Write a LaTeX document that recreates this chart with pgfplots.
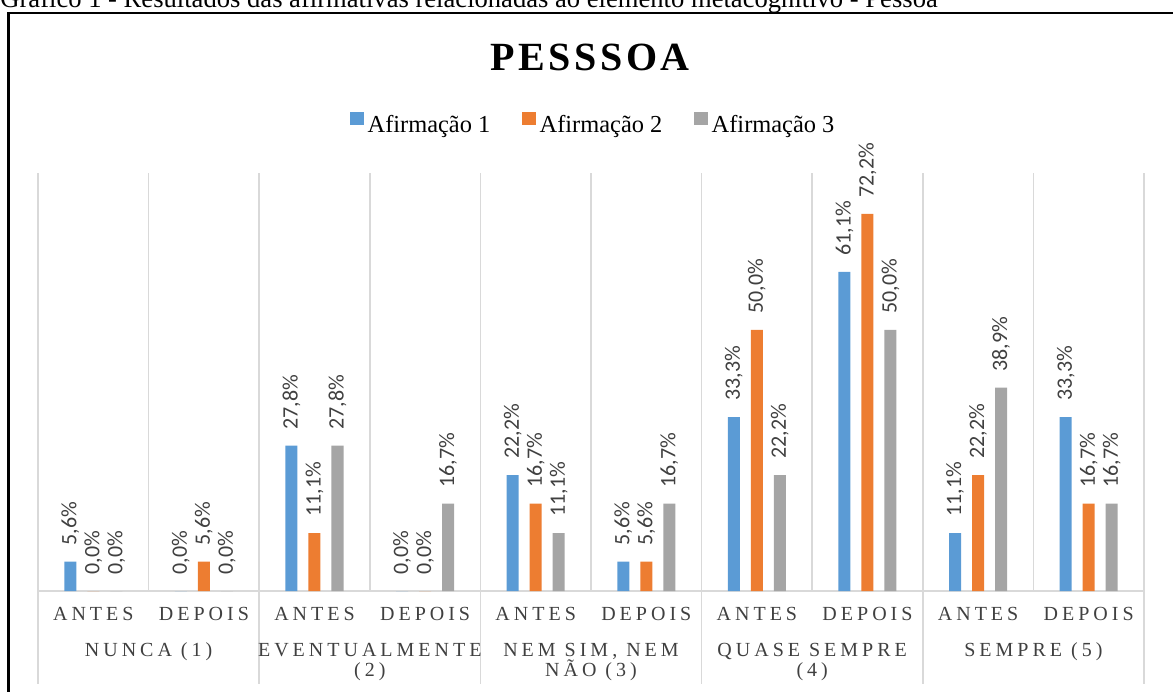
\documentclass[border=0pt]{standalone}
\usepackage{pgfplots}
\pgfplotsset{compat=1.18}
\usepackage{fontspec}
\setmainfont{Liberation Serif}
\newfontfamily\lblfont{Carlito}
\newfontfamily\spacedfont[LetterSpace=20]{Liberation Serif}
\newfontfamily\titlefont[LetterSpace=9]{Liberation Serif}
\definecolor{cblue}{HTML}{5B9BD5}
\definecolor{corange}{HTML}{ED7D31}
\definecolor{cgray}{HTML}{A5A5A5}
\definecolor{gridgray}{HTML}{D9D9D9}
\definecolor{txtgray}{HTML}{404040}
\begin{document}
\begin{tikzpicture}[x=1pt,y=1pt]
\path[use as bounding box] (0,0) rectangle (586.5,345.5);
% caption (cut at the top, as in the reference)
\node[anchor=base west, inner sep=0pt, font=\fontsize{13.3}{15}\selectfont] at (0,341.8)
  {Gráfico 1 - Resultados das afirmativas relacionadas ao elemento metacognitivo - Pessoa};
% black frame
\draw[line width=1.3pt, line join=miter] (4.1,-10) -- (4.1,339) -- (600,339);
% title
\node[anchor=base, inner sep=0pt, font=\titlefont\bfseries\fontsize{20}{24}\selectfont] at (295,310.2) {PESSSOA};
\begin{axis}[
  at={(19pt,50pt)}, anchor=south west,
  scale only axis, width=553pt, height=209pt,
  xmin=-0.5, xmax=9.5, ymin=0, ymax=80,
  hide y axis,
  axis x line*=bottom,
  x axis line style={draw=gridgray, line width=0.8pt},
  xtick={0,...,9},
  xticklabels={ANTES,DEPOIS,ANTES,DEPOIS,ANTES,DEPOIS,ANTES,DEPOIS,ANTES,DEPOIS},
  xticklabel style={anchor=base, yshift=-14.75pt, font=\spacedfont\fontsize{10}{12}\selectfont, text=txtgray},
  major tick length=0pt,
  minor xtick={-0.5,0.5,...,9.5},
  minor tick length=0pt,
  xminorgrids,
  minor grid style={draw=gridgray, line width=0.8pt},
  ybar=5.5pt, bar width=6pt,
  clip=false,
  /pgf/number format/assume math mode=true,
  nodes near coords={\pgfmathprintnumber[fixed,fixed zerofill,precision=1,use comma]{\pgfplotspointmeta}\%},
  every node near coord/.append style={rotate=90, anchor=west, inner xsep=8pt, inner ysep=0pt,
     font=\lblfont\fontsize{11}{13}\selectfont, text=txtgray},
  legend columns=3,
  legend style={at={(0.503,1.115)}, anchor=center, draw=none, fill=none,
     font=\fontsize{12.2}{14}\selectfont,
     /tikz/every even column/.append style={column sep=14pt}},
  legend image code/.code={\fill[#1, draw=none] (0pt,0pt) rectangle (6.7pt,6.7pt);},
]
\addplot[fill=cblue, draw=none] coordinates {(0,5.6) (1,0.0) (2,27.8) (3,0.0) (4,22.2) (5,5.6) (6,33.3) (7,61.1) (8,11.1) (9,33.3)};
\addplot[fill=corange, draw=none] coordinates {(0,0.0) (1,5.6) (2,11.1) (3,0.0) (4,16.7) (5,5.6) (6,50.0) (7,72.2) (8,22.2) (9,16.7)};
\addplot[fill=cgray, draw=none] coordinates {(0,0.0) (1,0.0) (2,27.8) (3,16.7) (4,11.1) (5,16.7) (6,22.2) (7,50.0) (8,38.9) (9,16.7)};
\legend{Afirmação 1, Afirmação 2, Afirmação 3}
% group separators below the axis
\pgfplotsinvokeforeach{-0.5,1.5,3.5,5.5,7.5,9.5}{
  \draw[gridgray, line width=0.8pt] (axis cs:#1,0) -- ([yshift=-46.5pt]axis cs:#1,0);
}
% group labels
\begin{scope}[every node/.style={anchor=base, inner sep=0pt, font=\spacedfont\fontsize{10}{12}\selectfont, text=txtgray}]
\node at ([yshift=-32.75pt]axis cs:0.5,0) {NUNCA (1)};
\node at ([yshift=-32.75pt]axis cs:2.5,0) {EVENTUALMENTE};
\node at ([yshift=-42.75pt]axis cs:2.5,0) {(2)};
\node at ([yshift=-32.75pt]axis cs:4.5,0) {NEM SIM, NEM};
\node at ([yshift=-42.75pt]axis cs:4.5,0) {NÃO (3)};
\node at ([yshift=-32.75pt]axis cs:6.5,0) {QUASE SEMPRE};
\node at ([yshift=-42.75pt]axis cs:6.5,0) {(4)};
\node at ([yshift=-32.75pt]axis cs:8.5,0) {SEMPRE (5)};
\end{scope}
\end{axis}
\end{tikzpicture}
\end{document}
